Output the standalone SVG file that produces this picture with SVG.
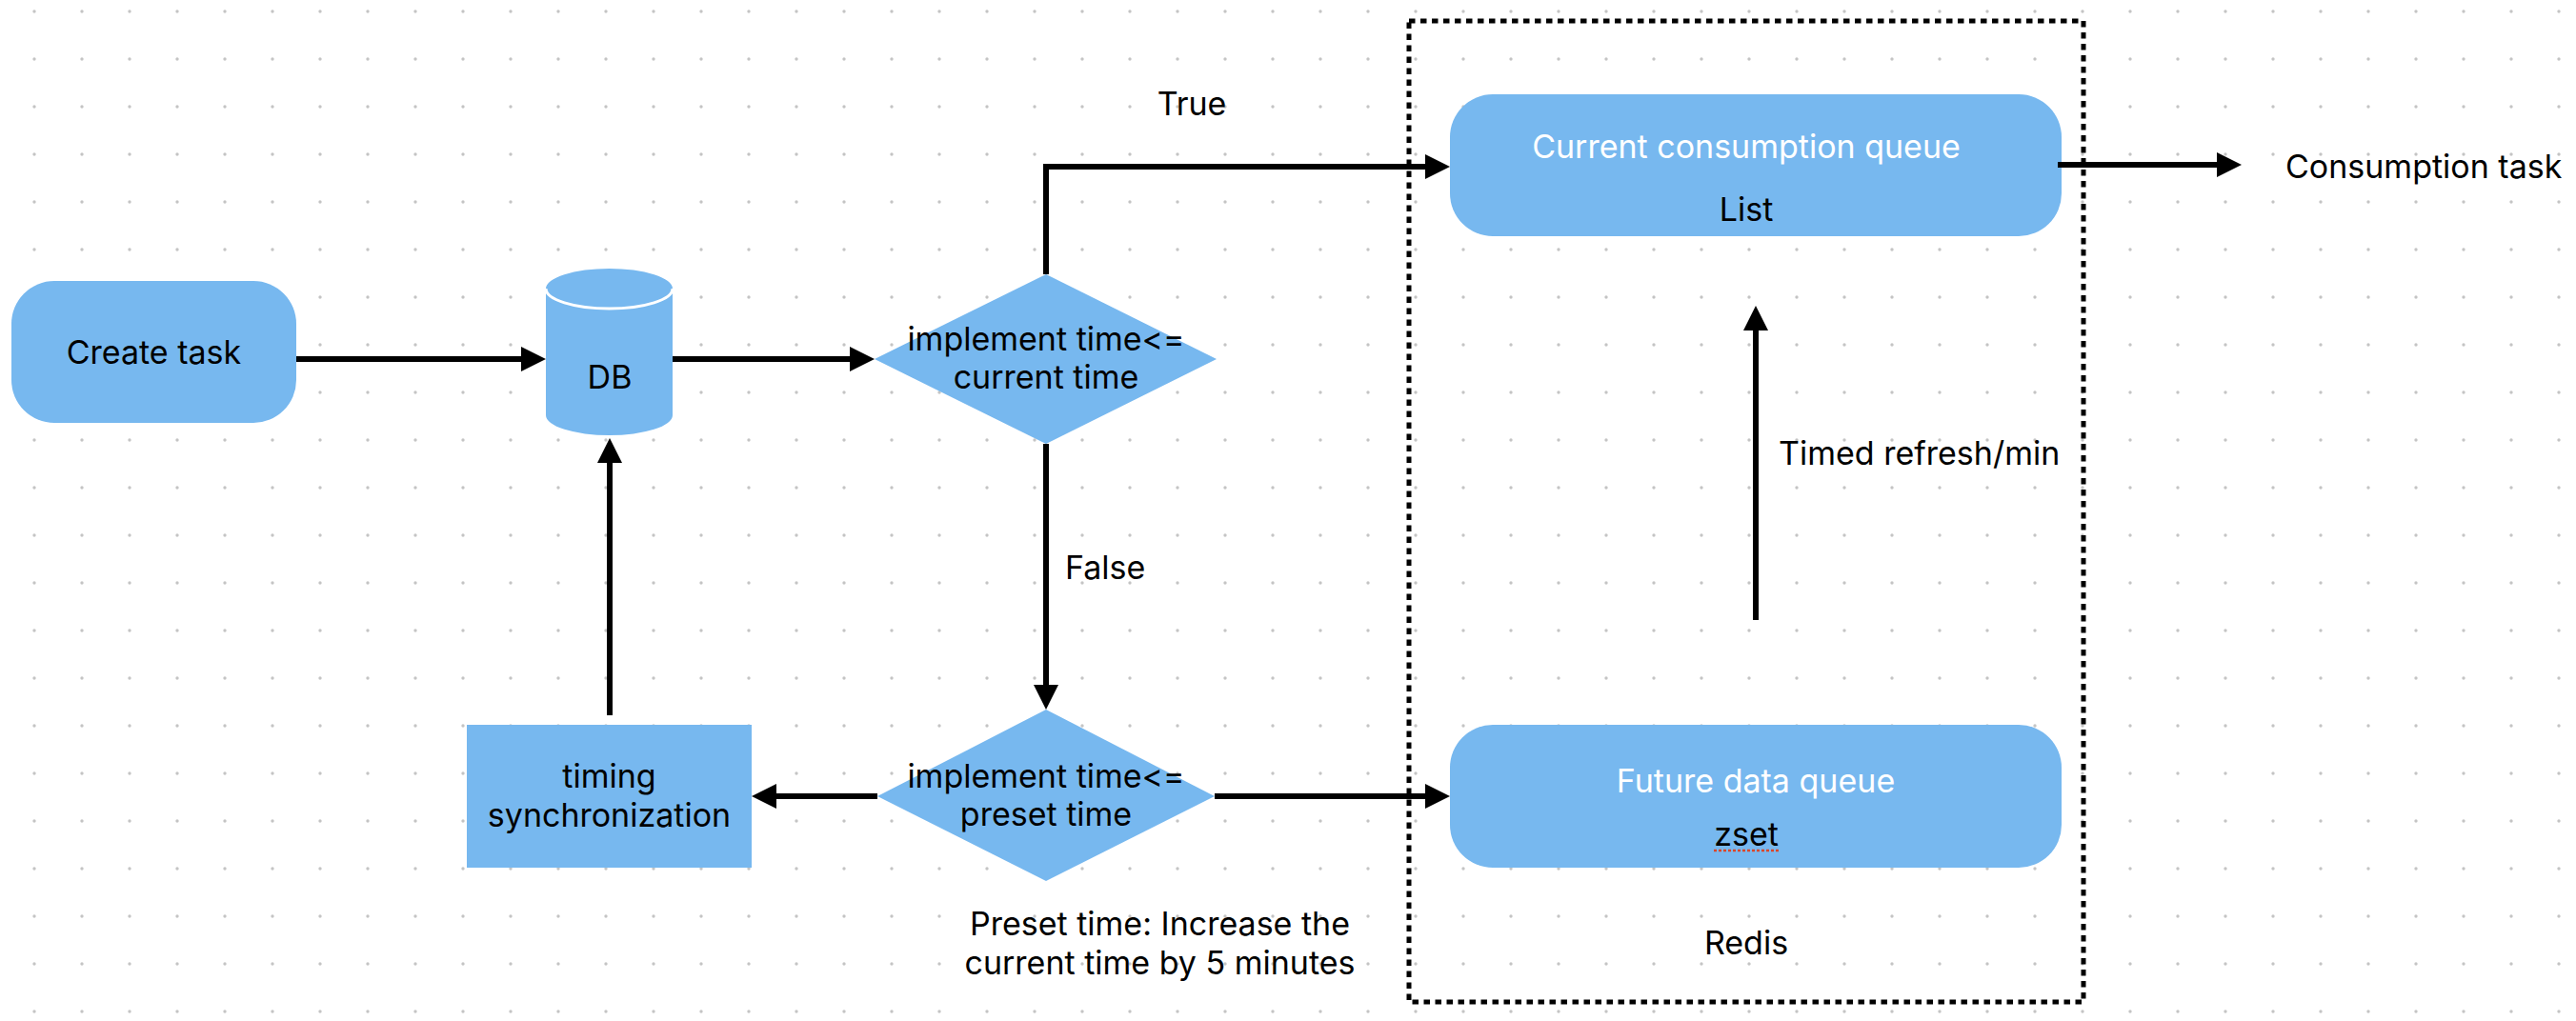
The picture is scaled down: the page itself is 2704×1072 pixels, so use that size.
<svg xmlns="http://www.w3.org/2000/svg" width="2704" height="1072" viewBox="0 0 2704 1072">
<style>
.node{fill:#77b8ef}
.t{font-family:Inter,"Liberation Sans",sans-serif;font-size:34px;fill:#000;text-anchor:middle}
.w{fill:#fff}
.l{text-anchor:start}
.c{fill:none;stroke:#000;stroke-width:6}
</style>
<defs>
<pattern id="grid" x="11" y="-13" width="50" height="50" patternUnits="userSpaceOnUse">
<circle cx="25" cy="25" r="1.7" fill="#c4c4c4"/>
</pattern>
<marker id="arr" markerUnits="userSpaceOnUse" markerWidth="26" markerHeight="26" refX="2" refY="13" orient="auto">
<path d="M0,0 L26,13 L0,26 Z" fill="#000"/>
</marker>
</defs>
<rect width="2704" height="1072" fill="#fff"/>
<rect width="2704" height="1072" fill="url(#grid)"/>

<g id="redis-group">
<rect x="1479" y="22" width="708" height="1030" fill="none" stroke="#000" stroke-width="5" stroke-dasharray="6.5 5.5"/>
<text class="t" x="1833" y="1002">Redis</text>
</g>

<g id="create-task">
<rect class="node" x="12" y="295" width="299" height="149" rx="45" ry="45"/>
<text class="t" x="161.5" y="382">Create task</text>
</g>

<g id="db">
<path class="node" d="M573,303 A66.5,21 0 0 1 706,303 L706,436 A66.5,21 0 0 1 573,436 Z"/>
<path d="M573,303 A66.5,21 0 0 0 706,303" fill="none" stroke="#fff" stroke-width="3"/>
<text class="t" x="640" y="408">DB</text>
</g>

<g id="decision-current">
<polygon class="node" points="1098,288 1277,377 1098,466 918,377"/>
<text class="t" x="1098" y="368">implement time&lt;=</text>
<text class="t" x="1098" y="408">current time</text>
</g>

<g id="decision-preset">
<polygon class="node" points="1098,745 1275,836 1098,925 921,836"/>
<text class="t" x="1098" y="827">implement time&lt;=</text>
<text class="t" x="1098" y="867">preset time</text>
</g>

<g id="timing-sync">
<rect class="node" x="490" y="761" width="299" height="150"/>
<text class="t" x="639.5" y="827">timing</text>
<text class="t" x="639.5" y="868">synchronization</text>
</g>

<g id="current-queue">
<rect class="node" x="1522" y="99" width="642" height="149" rx="45" ry="45"/>
<text class="t w" x="1833" y="166">Current consumption queue</text>
<text class="t" x="1833" y="232">List</text>
</g>

<g id="future-queue">
<rect class="node" x="1522" y="761" width="642" height="150" rx="45" ry="45"/>
<text class="t w" x="1843" y="832">Future data queue</text>
<text class="t" x="1833" y="888">zset</text>
<line x1="1799" y1="893" x2="1868" y2="893" stroke="#d9472b" stroke-width="2.5" stroke-dasharray="3 2"/>
</g>

<g id="connectors">
<path class="c" d="M311,377 H549" marker-end="url(#arr)"/>
<path class="c" d="M706,377 H894" marker-end="url(#arr)"/>
<path class="c" d="M1098,288 V175 H1498" marker-end="url(#arr)"/>
<path class="c" d="M1098,466 V721" marker-end="url(#arr)"/>
<path class="c" d="M921,836 H813" marker-end="url(#arr)"/>
<path class="c" d="M640,751 V484" marker-end="url(#arr)"/>
<path class="c" d="M1275,836 H1498" marker-end="url(#arr)"/>
<path class="c" d="M1843,651 V345" marker-end="url(#arr)"/>
<path class="c" d="M2160,173 H2329" marker-end="url(#arr)"/>
</g>

<g id="labels">
<text class="t" x="1251" y="121">True</text>
<text class="t l" x="1118" y="608">False</text>
<text class="t l" x="1867" y="488">Timed refresh/min</text>
<text class="t l" x="2399" y="187">Consumption task</text>
<text class="t" x="1217.5" y="982">Preset time: Increase the</text>
<text class="t" x="1217.5" y="1023">current time by 5 minutes</text>
</g>
</svg>
